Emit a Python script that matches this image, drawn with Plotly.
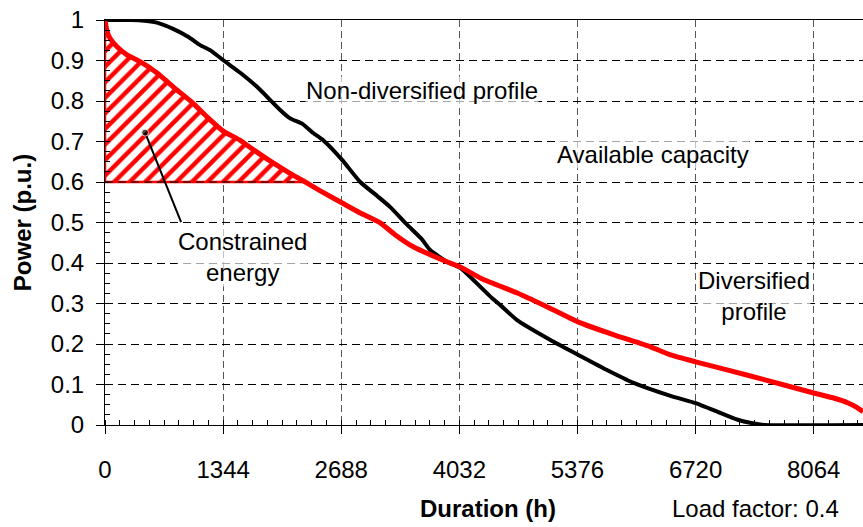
import numpy as np
import plotly.graph_objects as go

# Load duration curves (hours of the year vs. power in p.u.)
hours_nd = [0, 300, 450, 600, 775, 950, 1082, 1200, 1350, 1550, 1730, 1993, 2107, 2250,
            2369, 2483, 2700, 2904, 3100, 3246, 3440, 3600, 3700, 3890, 4043, 4385, 4499,
            4689, 5068, 5387, 5700, 6014, 6435, 6720, 7000, 7200, 7400, 7500, 8625]
power_nd = [1.0, 1.0, 0.998, 0.993, 0.978, 0.958, 0.938, 0.925, 0.900, 0.868, 0.835, 0.778,
            0.757, 0.743, 0.721, 0.703, 0.654, 0.600, 0.565, 0.538, 0.494, 0.460, 0.432,
            0.403, 0.388, 0.317, 0.296, 0.259, 0.210, 0.173, 0.137, 0.104, 0.072, 0.054,
            0.030, 0.013, 0.003, 0.0, 0.0]

hours_div = [0, 20, 57, 137, 250, 400, 600, 775, 1000, 1160, 1350, 1538, 1700, 1913, 2100,
             2255, 2450, 2700, 2900, 3132, 3300, 3508, 3890, 4043, 4300, 4692, 5000, 5387,
             5800, 6207, 6435, 6720, 7100, 7500, 8064, 8300, 8450, 8550, 8625]
power_div = [1.0, 0.975, 0.955, 0.934, 0.914, 0.897, 0.868, 0.835, 0.795, 0.761, 0.725,
             0.703, 0.678, 0.647, 0.622, 0.603, 0.578, 0.548, 0.524, 0.499, 0.470, 0.440,
             0.403, 0.390, 0.360, 0.326, 0.295, 0.254, 0.222, 0.193, 0.173, 0.156, 0.135,
             0.112, 0.079, 0.066, 0.055, 0.044, 0.033]

capacity = 0.6
x_ticks = [0, 1344, 2688, 4032, 5376, 6720, 8064]
x_max = 8625

# Leader line for the "Constrained energy" label
pointer_x = [456, 866]
pointer_y = [0.722, 0.501]

FONT = "Liberation Sans, Arial, sans-serif"
FS = 24

# Region of the diversified curve above the available capacity
hd = np.array(hours_div, dtype=float)
pd_ = np.array(power_div, dtype=float)
above = pd_ >= capacity
x_cross = float(np.interp(capacity, pd_[::-1], hd[::-1]))
poly_x = [0.0] + list(hd[above]) + [x_cross, 0.0]
poly_y = [capacity] + list(pd_[above]) + [capacity, capacity]

fig = go.Figure()

fig.add_trace(go.Scatter(
    x=poly_x, y=poly_y, mode="lines", fill="toself",
    line=dict(color="#ff0000", width=2.5),
    fillcolor="white",
    fillpattern=dict(shape="/", fgcolor="#ff0000", bgcolor="white",
                     size=11, solidity=0.4, fillmode="replace"),
    hoverinfo="skip", showlegend=False))

# Capacity line redrawn over the hatched region's lower edge
fig.add_trace(go.Scatter(
    x=[0, x_cross], y=[capacity, capacity], mode="lines",
    line=dict(color="black", width=1, dash="8px,5px"),
    hoverinfo="skip", showlegend=False))

fig.add_trace(go.Scatter(
    x=hours_nd, y=power_nd, mode="lines", name="Non-diversified profile",
    line=dict(color="black", width=4, shape="spline", smoothing=0.5),
    showlegend=False))

fig.add_trace(go.Scatter(
    x=hours_div, y=power_div, mode="lines", name="Diversified profile",
    line=dict(color="#ff0000", width=5, shape="spline", smoothing=0.5),
    showlegend=False))

fig.add_trace(go.Scatter(
    x=pointer_x, y=pointer_y, mode="lines+markers",
    line=dict(color="black", width=2),
    marker=dict(color="black", size=[7, 0]),
    hoverinfo="skip", showlegend=False))

txt_bg = "rgba(255,255,255,0.65)"
labels = [
    ("Non-diversified profile", 3610, 0.827),
    ("Available capacity", 6240, 0.667),
    ("Constrained<br>energy", 1560, 0.415),
    ("Diversified<br>profile", 7390, 0.319),
]
for text, lx, ly in labels:
    fig.add_annotation(x=lx, y=ly, text=text, showarrow=False,
                       font=dict(family=FONT, size=FS, color="black"),
                       bgcolor=txt_bg, borderpad=0)

# Axis caption and load factor note under the plot
fig.add_annotation(x=0.505, y=-0.205, xref="paper", yref="paper",
                   xanchor="center", yanchor="middle",
                   text="<b>Duration (h)</b>", showarrow=False,
                   font=dict(family=FONT, size=FS, color="black"))
fig.add_annotation(x=0.858, y=-0.205, xref="paper", yref="paper",
                   xanchor="center", yanchor="middle",
                   text="Load factor: 0.4", showarrow=False,
                   font=dict(family=FONT, size=FS, color="black"))

fig.update_xaxes(
    range=[0, x_max], tickvals=x_ticks, ticktext=[str(v) for v in x_ticks],
    ticks="outside", ticklen=8, tickcolor="black", tickwidth=1,
    ticklabelstandoff=15,
    showgrid=True, gridcolor="#555555", griddash="7px,4px", gridwidth=1,
    minor=dict(dtick=168, tick0=0, ticks="inside", ticklen=5,
               tickcolor="black", showgrid=False),
    showline=True, linecolor="black", linewidth=1, mirror=True, zeroline=False,
    tickfont=dict(family=FONT, size=FS, color="black"),
)

fig.update_yaxes(
    range=[0, 1], dtick=0.1, tick0=0,
    ticks="outside", ticklen=8, tickcolor="black", tickwidth=1,
    ticklabelstandoff=7,
    showgrid=True, gridcolor="black", griddash="8px,5px", gridwidth=1,
    minor=dict(dtick=0.025, tick0=0, ticks="inside", ticklen=5,
               tickcolor="black", showgrid=False),
    showline=True, linecolor="black", linewidth=1, zeroline=False,
    tickfont=dict(family=FONT, size=FS, color="black"),
    title=dict(text="<b>Power (p.u.)</b>", standoff=12,
               font=dict(family=FONT, size=FS, color="black")),
)

fig.update_layout(
    width=863, height=527,
    margin=dict(l=105, r=0, t=20, b=102),
    paper_bgcolor="white", plot_bgcolor="white",
)

fig.write_html("out.html")
